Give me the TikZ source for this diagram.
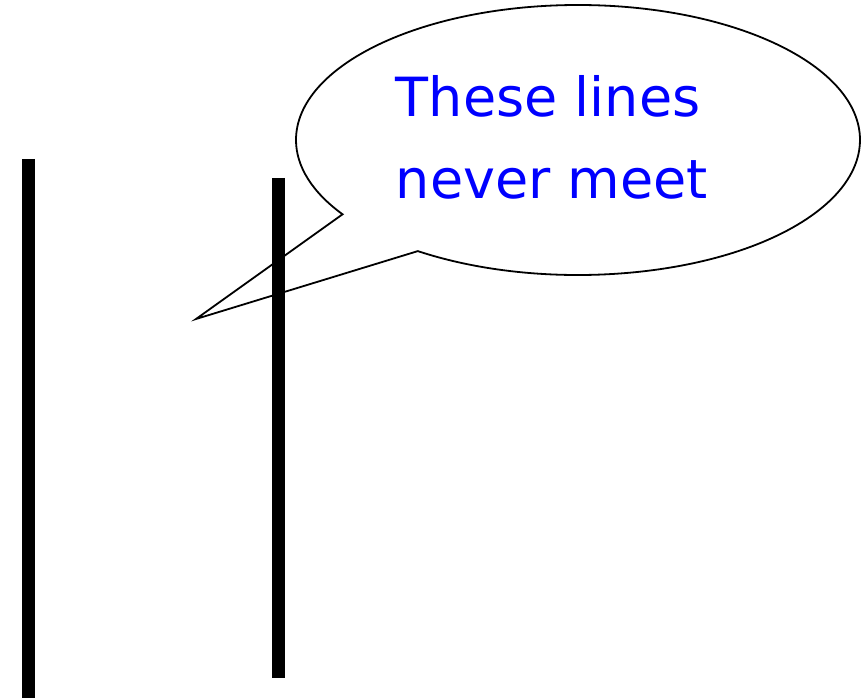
\documentclass[tikz,border=0pt]{standalone}
\usepackage{fontspec}
\setsansfont{DejaVu Sans}
\usetikzlibrary{shapes.callouts}

\tikzset{
  bar/.style={line width=13pt},
  bubble/.style={ellipse callout, draw, line width=1.8pt,
    minimum width=564pt, minimum height=270pt, inner sep=0pt,
    callout pointer arc=22},
  saytext/.style={text=blue, align=left, inner sep=0pt,
    font=\sffamily\fontsize{54}{82}\selectfont}
}

\begin{document}
\begin{tikzpicture}[x=1pt,y=-1pt]
  \useasboundingbox (0,0) rectangle (868,698);

  % speech bubble pointing between the lines
  \coordinate (tip) at (196,319);
  \node[bubble, callout absolute pointer={(tip)}] (bubble) at (578,140) {};

  % text of the bubble
  \node[saytext] (say) at (552,137) {These lines\\never meet};

  % the two parallel lines
  \draw[bar] (28.5,159) -- (28.5,698);
  \draw[bar] (278.5,178) -- (278.5,678);

\end{tikzpicture}
\end{document}
